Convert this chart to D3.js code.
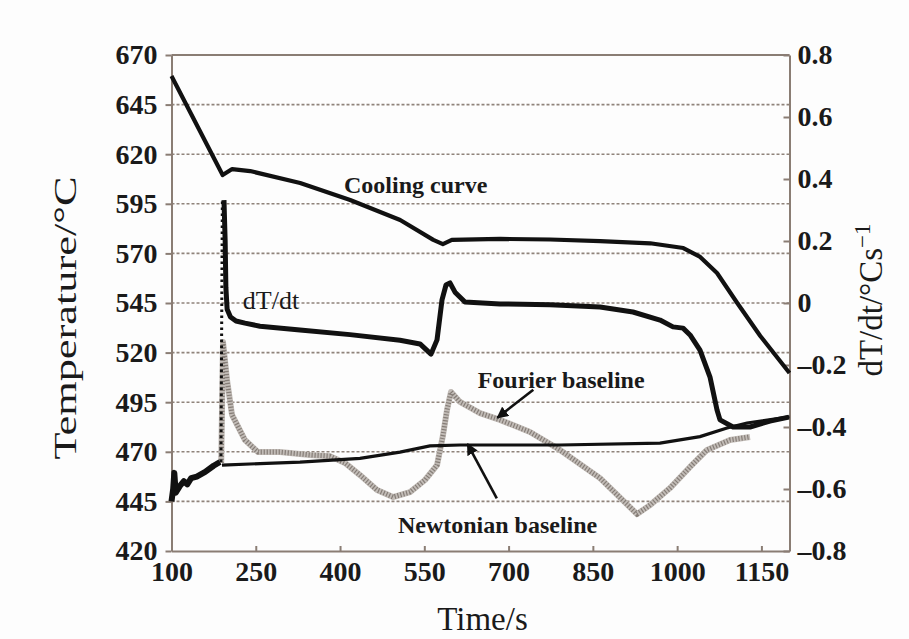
<!DOCTYPE html>
<html>
<head>
<meta charset="utf-8">
<script src="https://cdn.jsdelivr.net/npm/d3@7/dist/d3.min.js"></script>
<style>
  html, body { margin: 0; padding: 0; background: #fdfdfd; }
  svg { display: block; }
  text { font-family: "Liberation Serif", "Times New Roman", serif; fill: #1a1a1a; }
</style>
</head>
<body>
<svg id="chart" width="909" height="639"></svg>
<script>
// Time axis ticks (s) and the two vertical axes
const timeTicks = [100, 250, 400, 550, 700, 850, 1000, 1150];
const tempTicks = [420, 445, 470, 495, 520, 545, 570, 595, 620, 645, 670];
const rateTicks = [-0.8, -0.6, -0.4, -0.2, 0, 0.2, 0.4, 0.6, 0.8];

// Cooling curve: time (s) and temperature (°C)
const coolTime = [100, 191, 208, 240, 329, 418, 507, 566, 583, 599, 685, 774, 863, 952, 1011, 1041, 1071, 1107, 1148, 1200];
const coolTemp = [659.4, 609.5, 612.5, 611.5, 605.5, 596.9, 586.8, 576.8, 574.7, 576.8, 577.3, 577.0, 576.2, 575.1, 572.7, 568.2, 560.1, 545.0, 528.4, 509.7];

// dT/dt before the recalescence jump (°C/s)
const rateEarlyTime = [100, 103, 105, 107.5, 115, 122, 128, 135, 145, 160, 175, 186.3];
const rateEarly = [-0.640, -0.600, -0.548, -0.612, -0.590, -0.575, -0.585, -0.565, -0.560, -0.545, -0.525, -0.513];

// sparse samples across the jump
const rateJumpTime = [188, 190.5];
const rateJump = [-0.513, 0.332];

// dT/dt after the jump
const rateTime = [193.4, 195.5, 196.8, 199, 205, 214.8, 230.8, 257.5, 328.7, 417.7, 506.7, 542.3, 561.9, 572.6, 581.5, 588.6, 595.7, 604.6, 622.4, 684.7, 773.7, 862.7, 921.4, 969.5, 992.6, 1010.5, 1023, 1040.7, 1058.5, 1071, 1076.3, 1099.5, 1129.7, 1165.3, 1199];
const rate = [0.332, 0.2, 0.05, -0.02, -0.045, -0.058, -0.065, -0.075, -0.087, -0.102, -0.12, -0.132, -0.165, -0.119, 0.010, 0.058, 0.065, 0.035, 0.003, -0.003, -0.006, -0.013, -0.029, -0.055, -0.077, -0.081, -0.103, -0.152, -0.239, -0.345, -0.377, -0.400, -0.400, -0.381, -0.368];

// Newtonian baseline (°C/s)
const newtonTime = [189.9, 257.5, 328.7, 435.5, 506.7, 560, 613.5, 791.5, 969.5, 1040.7, 1088.8, 1124.4, 1200];
const newton = [-0.523, -0.518, -0.513, -0.501, -0.481, -0.461, -0.458, -0.458, -0.452, -0.431, -0.403, -0.387, -0.367];

// Fourier baseline (°C/s)
const fourierTime = [188.5, 191.7, 198.8, 207.7, 230.8, 254, 293, 346.5, 382, 408.8, 435.5, 465.8, 494.3, 524.5, 551.2, 572.6, 583.3, 590.4, 597.5, 613.5, 649, 684.7, 738.1, 791.5, 862.7, 928.6, 951.7, 987.3, 1022.9, 1053.2, 1094.1, 1129.7];
const fourier = [-0.516, -0.126, -0.248, -0.361, -0.442, -0.481, -0.481, -0.490, -0.494, -0.516, -0.555, -0.603, -0.626, -0.610, -0.571, -0.523, -0.426, -0.345, -0.287, -0.319, -0.355, -0.377, -0.416, -0.474, -0.565, -0.681, -0.652, -0.597, -0.529, -0.474, -0.442, -0.432];

const svg = d3.select("#chart");
const plotLeft = 171.5, plotRight = 789.5, plotTop = 55, plotBottom = 551;

const x = d3.scaleLinear().domain([100, 1200]).range([plotLeft, plotRight]);
const yT = d3.scaleLinear().domain([420, 670]).range([plotBottom, plotTop]);
const yR = d3.scaleLinear().domain([-0.8, 0.8]).range([plotBottom, plotTop]);

const axisColor = "#8a7d74";

// horizontal grid at the temperature ticks
svg.append("g").selectAll("line")
  .data(tempTicks.filter(v => v > 420 && v < 670))
  .join("line")
  .attr("x1", plotLeft).attr("x2", plotRight)
  .attr("y1", d => yT(d)).attr("y2", d => yT(d))
  .attr("stroke", "#8f837b").attr("stroke-width", 1.6)
  .attr("stroke-dasharray", "3,2");

// frame top
svg.append("line").attr("x1", plotLeft).attr("x2", plotRight).attr("y1", plotTop).attr("y2", plotTop)
  .attr("stroke", axisColor).attr("stroke-width", 2);

function styleAxis(g) {
  g.select(".domain").attr("stroke", axisColor).attr("stroke-width", 2);
  g.selectAll(".tick line").attr("stroke", axisColor).attr("stroke-width", 2);
  g.selectAll(".tick text").attr("font-family", "Liberation Serif, serif")
    .attr("font-weight", "bold").attr("font-size", 28).attr("fill", "#1a1a1a");
}

const fmtRate = v => (v < 0 ? "\u2013" : "") + (v === 0 ? "0" : Math.abs(v).toFixed(1));

svg.append("g").attr("transform", `translate(${plotLeft},0)`)
  .call(d3.axisLeft(yT).tickValues(tempTicks).tickSize(6).tickPadding(8).tickSizeOuter(0))
  .call(styleAxis);

svg.append("g").attr("transform", `translate(0,${plotBottom})`)
  .call(d3.axisBottom(x).tickValues(timeTicks).tickFormat(d3.format("d"))
    .tickSize(-5).tickPadding(10).tickSizeOuter(0))
  .call(styleAxis);

svg.append("g").attr("transform", `translate(${plotRight},0)`)
  .call(d3.axisRight(yR).tickValues(rateTicks).tickSize(-6).tickPadding(10).tickSizeOuter(0).tickFormat(fmtRate))
  .call(styleAxis)
  .call(g => g.selectAll(".tick text").attr("x", 8));

const zip = (a, b) => a.map((v, i) => [v, b[i]]);

const lineR = d3.line().x(d => x(d[0])).y(d => yR(d[1]));
const lineT = d3.line().x(d => x(d[0])).y(d => yT(d[1]));

// Fourier baseline: grey hatched band
svg.append("path").datum(zip(fourierTime, fourier))
  .attr("d", lineR).attr("fill", "none")
  .attr("stroke", "#c2bcb7").attr("stroke-width", 6).attr("stroke-linejoin", "round");
svg.append("path").datum(zip(fourierTime, fourier))
  .attr("d", lineR).attr("fill", "none")
  .attr("stroke", "#857d77").attr("stroke-width", 5).attr("stroke-dasharray", "1.2,1.8");

// Newtonian baseline
svg.append("path").datum(zip(newtonTime, newton))
  .attr("d", lineR).attr("fill", "none")
  .attr("stroke", "#111").attr("stroke-width", 3.2);

// dT/dt
svg.append("path").datum(zip(rateEarlyTime, rateEarly))
  .attr("d", lineR).attr("fill", "none")
  .attr("stroke", "#111").attr("stroke-width", 6).attr("stroke-linejoin", "round");
svg.append("path").datum(zip(rateJumpTime, rateJump))
  .attr("d", lineR).attr("fill", "none")
  .attr("stroke", "#111").attr("stroke-width", 3).attr("stroke-dasharray", "2.5,3.5");
svg.append("path").datum(zip(rateTime, rate))
  .attr("d", lineR).attr("fill", "none")
  .attr("stroke", "#111").attr("stroke-width", 5).attr("stroke-linejoin", "round");

// Cooling curve
svg.append("path").datum(zip(coolTime, coolTemp))
  .attr("d", lineT).attr("fill", "none")
  .attr("stroke", "#111").attr("stroke-width", 4.2).attr("stroke-linejoin", "round");

// curve labels
const labelFont = 24;
svg.append("text").attr("x", x(407)).attr("y", yT(600.5))
  .attr("font-size", labelFont).attr("font-weight", "bold").text("Cooling curve");
svg.append("text").attr("x", x(227)).attr("y", yR(-0.02))
  .attr("font-size", 26).text("dT/dt");
svg.append("text").attr("x", x(645)).attr("y", yR(-0.275))
  .attr("font-size", labelFont).attr("font-weight", "bold").text("Fourier baseline");
svg.append("text").attr("x", x(503)).attr("y", yR(-0.743))
  .attr("font-size", labelFont).attr("font-weight", "bold").text("Newtonian baseline");

// arrows
const defs = svg.append("defs");
defs.append("marker").attr("id", "head").attr("viewBox", "0 0 10 10")
  .attr("refX", 9).attr("refY", 5).attr("markerWidth", 4.5).attr("markerHeight", 4.5)
  .attr("orient", "auto")
  .append("path").attr("d", "M0,0 L10,5 L0,10 Z").attr("fill", "#111");

function arrow(t0, v0, t1, v1) {
  svg.append("line")
    .attr("x1", x(t0)).attr("y1", yR(v0)).attr("x2", x(t1)).attr("y2", yR(v1))
    .attr("stroke", "#111").attr("stroke-width", 2.6).attr("marker-end", "url(#head)");
}
arrow(744, -0.28, 680, -0.37);
arrow(679, -0.63, 627, -0.455);

// axis titles
svg.append("text").attr("transform", `translate(76,${(plotTop + plotBottom) / 2 + 15}) rotate(-90)`)
  .attr("text-anchor", "middle").attr("font-size", 32)
  .attr("textLength", 283).attr("lengthAdjust", "spacingAndGlyphs")
  .text("Temperature/°C");

svg.append("text").attr("x", (plotLeft + plotRight) / 2 + 2).attr("y", 630)
  .attr("text-anchor", "middle").attr("font-size", 33).text("Time/s");

const rt = svg.append("text").attr("transform", `translate(882,300) rotate(-90)`)
  .attr("text-anchor", "middle").attr("font-size", 33);
rt.append("tspan").text("dT/dt/°Cs");
rt.append("tspan").attr("dy", -12).attr("font-size", 23).text("\u22121");
</script>
</body>
</html>
